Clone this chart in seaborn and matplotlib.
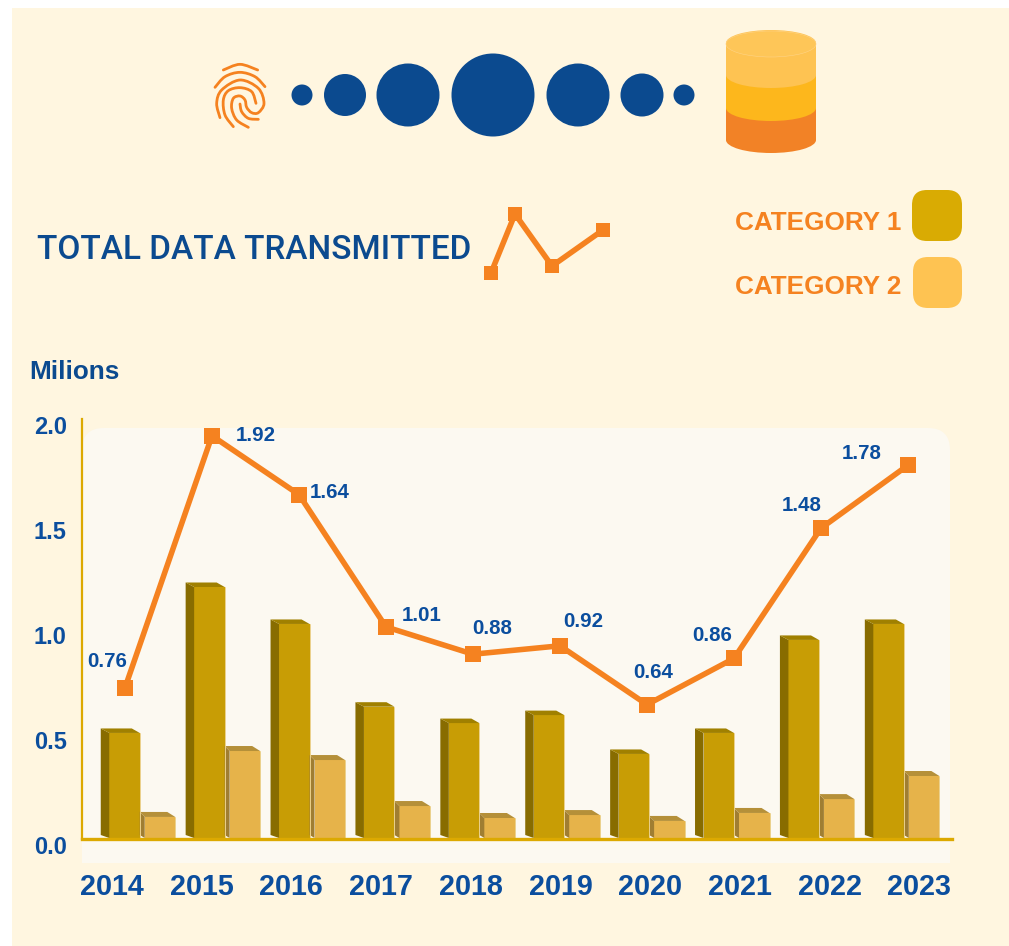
# %%
import numpy as np
import pandas as pd
import matplotlib
matplotlib.use('Agg')
import matplotlib.pyplot as plt
import matplotlib.patches as mpatches
from matplotlib.path import Path
from matplotlib.transforms import IdentityTransform, ScaledTranslation
import seaborn as sns

# %%
years = [2014, 2015, 2016, 2017, 2018, 2019, 2020, 2021, 2022, 2023]
category_1 = [0.505, 1.20, 1.024, 0.63, 0.552, 0.59, 0.405, 0.505, 0.948, 1.024]
category_2 = [0.105, 0.419, 0.376, 0.157, 0.10, 0.114, 0.086, 0.124, 0.19, 0.30]
total_values = [0.72, 1.92, 1.64, 1.01, 0.88, 0.92, 0.64, 0.86, 1.48, 1.78]
total_labels = ['0.76', '1.92', '1.64', '1.01', '0.88', '0.92', '0.64', '0.86', '1.48', '1.78']
y_ticks = [0.0, 0.5, 1.0, 1.5, 2.0]

# label offsets from the marker, px
label_dx = [-18, 44, 31, 36, 19, 23, 6, -22, -19, -46]
label_dy = [26, 0, 2, 11, 26, 24, 32, 23, 23, 12]

CREAM = '#FFF6E0'
INNER = '#FCF9F1'
ORANGE = '#F58220'
BLUE = '#0B4A8F'
LABEL_BLUE = '#0B4E9E'
AXIS = '#DCA901'
W, H = 1009, 946

sns.set_style('white')
plt.rcParams['font.family'] = ['Liberation Sans', 'DejaVu Sans']
plt.rcParams['font.weight'] = 'bold'

bars_df = pd.DataFrame({
    'year': [str(y) for y in years] * 2,
    'category': ['Category 1'] * 10 + ['Category 2'] * 10,
    'value': category_1 + category_2,
})

fig = plt.figure(figsize=(W / 100, H / 100), dpi=100, facecolor='white')

# %%
# background and the infographic decoration, in image pixels
bg = fig.add_axes([0, 0, 1, 1], zorder=-1)
bg.set_xlim(0, W)
bg.set_ylim(H, 0)
bg.axis('off')
bg.add_patch(mpatches.Rectangle((12, 8), W - 12, H - 8, fc=CREAM, ec='none'))
bg.add_patch(mpatches.Rectangle((82, 600), 868, 263, fc=INNER, ec='none'))
bg.add_patch(mpatches.FancyBboxPatch((82, 428), 868, 300, boxstyle='round,pad=0,rounding_size=22',
                                     fc=INNER, ec='none'))

for cx, r in [(302, 10.5), (345, 21), (408, 31.5), (493, 41.5), (578, 31.5), (642, 21.5), (684, 10.5)]:
    bg.add_patch(mpatches.Circle((cx, 95), r, fc=BLUE, ec='none'))

# database icon, stacked from the bottom
for cy, color in [(140, '#F28226'), (108, '#FDB71C'), (75, '#FEC352')]:
    bg.add_patch(mpatches.Ellipse((771, cy), 90, 26, fc=color, ec='none'))
    bg.add_patch(mpatches.Rectangle((726, cy - 32), 90, 32, fc=color, ec='none'))
    bg.add_patch(mpatches.Ellipse((771, cy - 32), 90, 26, fc=color, ec='none'))
bg.add_patch(mpatches.Ellipse((771, 44), 90, 26, fc='#FEC658', ec='#FFD486', lw=0.4))

# fingerprint strokes, points in a 3x crop whose corner is (190, 20)
strokes = [
    [(100, 150), (150, 133), (203, 150)],
    [(75, 202), (105, 170), (150, 157), (195, 170), (225, 200)],
    [(90, 293), (80, 250), (95, 210), (150, 180), (205, 205), (222, 250), (205, 278), (185, 278),
     (170, 262), (165, 240), (150, 228), (130, 235), (125, 265), (140, 300), (175, 322)],
    [(130, 320), (105, 285), (100, 240), (115, 212), (150, 203), (185, 215), (198, 250)],
    [(205, 298), (175, 295), (155, 275), (150, 252)],
]
for pts in strokes:
    pts = np.array(pts) / 3 + [190, 20]
    ext = np.vstack([pts[0], pts, pts[-1]])
    verts, codes = [pts[0]], [Path.MOVETO]
    # catmull-rom through the points
    for i in range(1, len(ext) - 2):
        verts += [ext[i] + (ext[i + 1] - ext[i - 1]) / 6, ext[i + 1] - (ext[i + 2] - ext[i]) / 6, ext[i + 1]]
        codes += [Path.CURVE4] * 3
    bg.add_patch(mpatches.PathPatch(Path(verts, codes), fc='none', ec=ORANGE, lw=2.0, capstyle='round'))

# small line icon beside the title
bg.plot([491, 515, 552, 603], [273, 214, 266, 230], color=ORANGE, lw=4, marker='s', ms=9.5, markeredgewidth=0)

bg.text(37, 250, 'TOTAL DATA TRANSMITTED', color=BLUE, fontsize=24.05, fontweight='medium',
        family='Roboto', ha='left', va='center')
bg.text(29, 372, 'Milions', color=BLUE, fontsize=18.8, ha='left', va='center')
bg.text(735, 222.5, 'CATEGORY 1', color=ORANGE, fontsize=18.85, ha='left', va='center')
bg.text(735, 286.5, 'CATEGORY 2', color=ORANGE, fontsize=18.85, ha='left', va='center')
bg.add_patch(mpatches.FancyBboxPatch((912, 190), 50, 51, boxstyle='round,pad=0,rounding_size=15',
                                     fc='#D9AB03', ec='none'))
bg.add_patch(mpatches.FancyBboxPatch((913, 257), 49, 51, boxstyle='round,pad=0,rounding_size=15',
                                     fc='#FEC352', ec='none'))

# %%
# bars
ax = fig.add_axes([82 / W, (H - 839) / H, 870 / W, 420 / H])
ax.patch.set_visible(False)
sns.barplot(data=bars_df, x='year', y='value', hue='category',
            palette=['#C89D05', '#E6B34A'], saturation=1,
            width=0.836, gap=0.14, linewidth=0, legend=False, ax=ax, zorder=3)
ax.set_xlim(-0.7097, 9.538)
ax.set_ylim(0, 2)
ax.set_xlabel(None)
ax.set_ylabel(None)
ax.set_xticks([])
ax.set_yticks(y_ticks, [f'{v:.1f}' for v in y_ticks])
ax.tick_params(axis='y', length=0, pad=11, labelsize=17, labelcolor=LABEL_BLUE)
for tick in ax.yaxis.get_major_ticks():
    tick.label1.set_transform(tick.label1.get_transform() + ScaledTranslation(0, -6 / 100, fig.dpi_scale_trans))
sns.despine(ax=ax, top=True, right=True)
ax.spines['left'].set(color=AXIS, linewidth=1.6, zorder=5)
ax.spines['bottom'].set(color=AXIS, linewidth=2.4, zorder=5)

# side and top faces of the 3D bars, worked out from the drawn bars
faces = {0: ('#886C00', '#A08000', 8.5, 4.5, 8), 1: ('#A07E32', '#B59039', 5, 5, 8)}
drawn = [p for p in ax.patches if isinstance(p, mpatches.Rectangle) and p.get_height() > 0]
for i, bar in enumerate(drawn):
    side_color, top_color, dx, dy, back = faces[i // 10]
    (x0, y0), (x1, y1) = ax.transData.transform([(bar.get_x(), 0), (bar.get_x() + bar.get_width(), bar.get_height())])
    side = [(x0 - dx, y1 + dy), (x0, y1), (x0, y0 + 1), (x0 - dx, y0 + 4)]
    top = [(x0 - dx, y1 + dy), (x1 - back, y1 + dy), (x1, y1), (x0, y1)]
    for verts, color in [(side, side_color), (top, top_color)]:
        ax.add_patch(mpatches.Polygon(verts, closed=True, fc=color, ec='none',
                                      transform=IdentityTransform(), clip_on=False, zorder=3))
    ax.plot([x1, x1], [y0, y1], color='#EBD08A', lw=0.7, transform=IdentityTransform(), zorder=3.5,
            clip_on=False, scalex=False, scaley=False)

# %%
# line on its own twin, the picture spaces it differently from the bars
ax_line = ax.twiny()
ax_line.patch.set_visible(False)
sns.lineplot(x=years, y=total_values, color=ORANGE, linewidth=4, marker='s', markersize=11.5,
             markeredgewidth=0, ax=ax_line, errorbar=None, clip_on=False)
ax_line.set_xlim(2014 - 0.494, 2014 + 9.506)
ax_line.set_ylim(0, 2)
ax_line.set_xticks([])
ax_line.set_ylabel(None)
for year, value, text, dx, dy in zip(years, total_values, total_labels, label_dx, label_dy):
    ax_line.annotate(text, (year, value), xytext=(dx * 0.72, dy * 0.72), textcoords='offset points',
                     ha='center', va='center', fontsize=14.8, color=LABEL_BLUE)
for side in ax_line.spines.values():
    side.set_visible(False)

# year labels on a third scale
ax_year = ax.twiny()
ax_year.patch.set_visible(False)
ax_year.set_xlim(2014 - 0.334, 2014 + 9.365)
ax_year.set_xticks(years, [str(y) for y in years])
ax_year.xaxis.set_ticks_position('bottom')
ax_year.xaxis.set_label_position('bottom')
ax_year.tick_params(axis='x', length=0, pad=24.5, labelsize=20.7, labelcolor=LABEL_BLUE)
for side in ax_year.spines.values():
    side.set_visible(False)

fig.savefig('out.png', dpi=100)
